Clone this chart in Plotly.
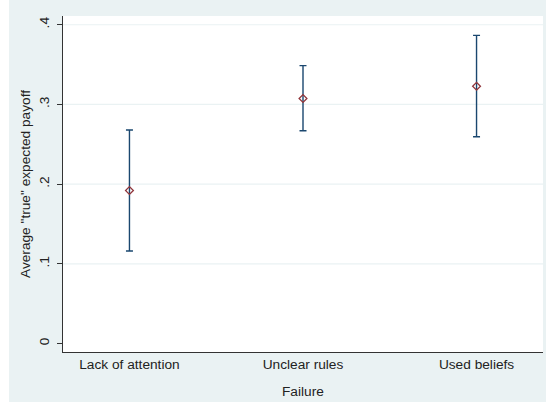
import plotly.graph_objects as go

categories = ["Lack of attention", "Unclear rules", "Used beliefs"]
means = [0.192, 0.3075, 0.3228]
upper = [0.268, 0.3487, 0.3867]
lower = [0.116, 0.267, 0.2595]
y_ticks = [0, 0.1, 0.2, 0.3, 0.4]
y_tick_text = ["0", ".1", ".2", ".3", ".4"]

BG = "#EAF2F3"
FONT = "Liberation Sans, Arial, sans-serif"
FS = 13.7

x_idx = list(range(len(categories)))
err_plus = [u - m for u, m in zip(upper, means)]
err_minus = [m - l for m, l in zip(means, lower)]

fig = go.Figure()
fig.add_trace(go.Scatter(
    x=x_idx, y=means, mode="markers",
    marker=dict(symbol="diamond-open", size=6, color="#90353B", line=dict(width=1.3)),
    error_y=dict(type="data", symmetric=False, array=err_plus, arrayminus=err_minus,
                 color="#1A476F", thickness=1.4, width=3.5),
    showlegend=False,
))

shapes = [dict(type="rect", xref="paper", yref="paper", x0=-0.2, x1=-0.1125, y0=-0.5, y1=1.5,
               fillcolor="white", line=dict(width=0), layer="below")]
for t in y_ticks:
    if t > 0:
        shapes.append(dict(type="line", xref="paper", yref="y", x0=0, x1=1, y0=t, y1=t,
                           line=dict(color=BG, width=1.2), layer="below"))

fig.update_layout(
    width=546, height=402,
    margin=dict(l=63, r=3, t=16, b=50),
    paper_bgcolor=BG, plot_bgcolor="white",
    font=dict(family=FONT, size=FS, color="#222"),
    shapes=shapes,
    xaxis=dict(range=[-0.383, 2.383], tickvals=x_idx, ticktext=categories,
               showgrid=False, zeroline=False, showline=True, linecolor="#333", linewidth=1,
               ticks="", ticklabelstandoff=0),
    yaxis=dict(range=[-0.0107, 0.411], tickvals=y_ticks, ticktext=y_tick_text,
               tickangle=-90, showgrid=False, zeroline=False, showline=True,
               linecolor="#333", linewidth=1, ticks="outside", ticklen=5, tickcolor="#333",
               ticklabelstandoff=3),
    annotations=[
        dict(text='Average "true" expected payoff', xref="paper", yref="paper", x=0, y=0.5,
             xshift=-38, textangle=-90, showarrow=False, xanchor="center", yanchor="middle",
             font=dict(size=FS)),
        dict(text="Failure", xref="paper", yref="paper", x=0.5, y=0, yshift=-39,
             showarrow=False, xanchor="center", yanchor="middle", font=dict(size=FS)),
    ],
)

fig.write_html("out.html", config={"displayModeBar": False},
               post_script="document.body.style.margin='0';document.body.style.overflow='hidden';")
